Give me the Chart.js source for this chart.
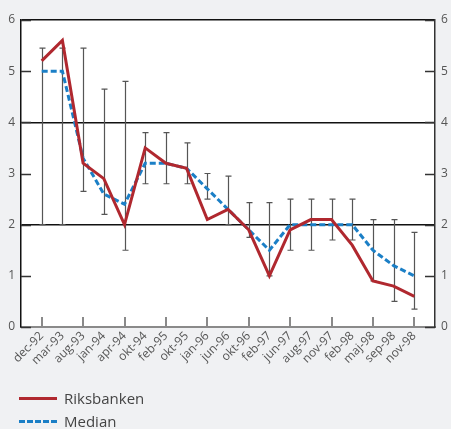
<!DOCTYPE html>
<html>
<head>
<meta charset="utf-8">
<script src="https://cdn.jsdelivr.net/npm/chart.js@4/dist/chart.umd.min.js"></script>
<style>
  html, body { margin: 0; padding: 0; background: #f0f1f3; }
  #wrap { position: relative; width: 451px; height: 429px; overflow: hidden; }
  #chart { position: absolute; left: 0; top: 0; }
  .leg { position: absolute; left: 19px; font: 15px "Open Sans", sans-serif; color: #444; display: flex; align-items: center; height: 20px; }
  .leg .swatch { width: 38px; height: 0; margin-right: 7px; }
</style>
</head>
<body>
<div id="wrap">
  <canvas id="chart" width="451" height="429"></canvas>
  <div class="leg" style="top:388px;"><span class="swatch" style="border-top:3px solid #b0282f;"></span>Riksbanken</div>
  <div class="leg" style="top:411px;"><span class="swatch" style="border-top:3px dashed #1b7fc6;"></span>Median</div>
</div>
<script>
// Forecast dates
const categories = ['dec-92','mar-93','aug-93','jan-94','apr-94','okt-94','feb-95','okt-95','jan-96','jun-96',
                    'okt-96','feb-97','jun-97','aug-97','nov-97','feb-98','maj-98','sep-98','nov-98'];
// Riksbanken inflation forecast (%)
const riksbanken = [5.2, 5.6, 3.2, 2.9, 2.0, 3.5, 3.2, 3.1, 2.1, 2.3, 1.9, 1.0, 1.9, 2.1, 2.1, 1.6, 0.9, 0.8, 0.6];
// Median of other forecasters (%)
const median     = [5.0, 5.0, 3.3, 2.6, 2.4, 3.2, 3.2, 3.1, 2.7, 2.3, 1.9, 1.5, 2.0, 2.0, 2.0, 2.0, 1.5, 1.2, 1.0];
// Range of forecasts: lowest and highest
const rangeLow   = [2.0, 2.0, 2.65, 2.2, 1.5, 2.8, 2.8, 2.8, 2.5, 2.0, 1.75, 1.0, 1.5, 1.5, 1.7, 1.7, 0.9, 0.5, 0.35];
const rangeHigh  = [5.45, 5.45, 5.45, 4.65, 4.8, 3.8, 3.8, 3.6, 3.0, 2.95, 2.43, 2.43, 2.5, 2.5, 2.5, 2.5, 2.1, 2.1, 1.85];
// Value axis ticks
const yTicks = [0, 1, 2, 3, 4, 5, 6];

const FONT = '"Open Sans", sans-serif';
const TEXT = '#555';

const toPoints = arr => arr.map((v, i) => ({ x: i, y: v }));

// White plot area on the grey page
const plotBackground = {
  id: 'plotBackground',
  beforeDraw(chart) {
    const { ctx, chartArea: a } = chart;
    ctx.save();
    ctx.fillStyle = '#ffffff';
    ctx.fillRect(a.left, a.top, a.right - a.left, a.bottom - a.top);
    ctx.restore();
  }
};

// Forecast range whiskers and inward tick marks
const rangesAndTicks = {
  id: 'rangesAndTicks',
  beforeDatasetsDraw(chart) {
    const { ctx, chartArea: a, scales } = chart;
    const xs = scales.x, ys = scales.y;
    ctx.save();
    // whiskers
    ctx.strokeStyle = '#555';
    ctx.lineWidth = 1.2;
    for (let i = 0; i < categories.length; i++) {
      const px = Math.round(xs.getPixelForValue(i)) + 0.5;
      const lo = ys.getPixelForValue(rangeLow[i]);
      const hi = ys.getPixelForValue(rangeHigh[i]);
      ctx.beginPath();
      ctx.moveTo(px, lo); ctx.lineTo(px, hi);
      ctx.moveTo(px - 3, hi); ctx.lineTo(px + 3, hi);
      ctx.moveTo(px - 3, lo); ctx.lineTo(px + 3, lo);
      ctx.stroke();
    }
    // x ticks every second date, pointing into the plot
    ctx.strokeStyle = '#8a8a8a';
    ctx.lineWidth = 2;
    for (let i = 0; i < categories.length; i += 2) {
      const px = Math.round(xs.getPixelForValue(i));
      ctx.beginPath();
      ctx.moveTo(px, a.bottom); ctx.lineTo(px, a.bottom - 10);
      ctx.stroke();
    }
    // y ticks on both sides, pointing into the plot
    ctx.strokeStyle = '#333';
    ctx.lineWidth = 1.5;
    yTicks.forEach(v => {
      const py = Math.round(ys.getPixelForValue(v)) + 0.5;
      ctx.beginPath();
      ctx.moveTo(a.left, py); ctx.lineTo(a.left + 10, py);
      ctx.moveTo(a.right, py); ctx.lineTo(a.right - 10, py);
      ctx.stroke();
    });
    ctx.restore();
  }
};

const yCommon = {
  type: 'linear',
  min: 0,
  max: 6,
  ticks: {
    stepSize: 1,
    color: TEXT,
    font: { family: FONT, size: 12 },
    padding: 6
  }
};

new Chart(document.getElementById('chart'), {
  type: 'line',
  data: {
    datasets: [
      {
        label: 'Riksbanken',
        data: toPoints(riksbanken),
        borderColor: '#b0282f',
        borderWidth: 3,
        pointRadius: 0,
        tension: 0,
        borderJoinStyle: 'miter'
      },
      {
        label: 'Median',
        data: toPoints(median),
        borderColor: '#1b7fc6',
        borderWidth: 3,
        borderDash: [6, 3],
        pointRadius: 0,
        tension: 0
      }
    ]
  },
  options: {
    responsive: false,
    animation: false,
    layout: { padding: { top: 20, left: 0, right: 0, bottom: 0 } },
    plugins: { legend: { display: false }, tooltip: { enabled: false } },
    scales: {
      x: {
        type: 'linear',
        min: -1,
        max: 19,
        afterFit(s) { s.height = 102; },
        afterBuildTicks(s) {
          s.ticks = categories.map((c, i) => ({ value: i }));
        },
        ticks: {
          autoSkip: false,
          maxRotation: 45,
          minRotation: 45,
          color: TEXT,
          font: { family: FONT, size: 12 },
          padding: 2,
          callback: v => categories[v] ?? ''
        },
        grid: { drawOnChartArea: false, drawTicks: false },
        border: { display: true, color: '#8a8a8a', width: 2 }
      },
      y: {
        ...yCommon,
        position: 'left',
        afterFit(s) { s.width = 21; },
        grid: {
          drawTicks: false,
          lineWidth: 1.5,
          color: c => (c.tick && (c.tick.value === 2 || c.tick.value === 4 || c.tick.value === 6)) ? '#111' : 'rgba(0,0,0,0)'
        },
        border: { display: true, color: '#111', width: 1.5 }
      },
      y2: {
        ...yCommon,
        position: 'right',
        afterFit(s) { s.width = 16; },
        grid: { display: false, drawTicks: false },
        border: { display: true, color: '#333', width: 1.5 }
      }
    }
  },
  plugins: [plotBackground, rangesAndTicks]
});
</script>
</body>
</html>
